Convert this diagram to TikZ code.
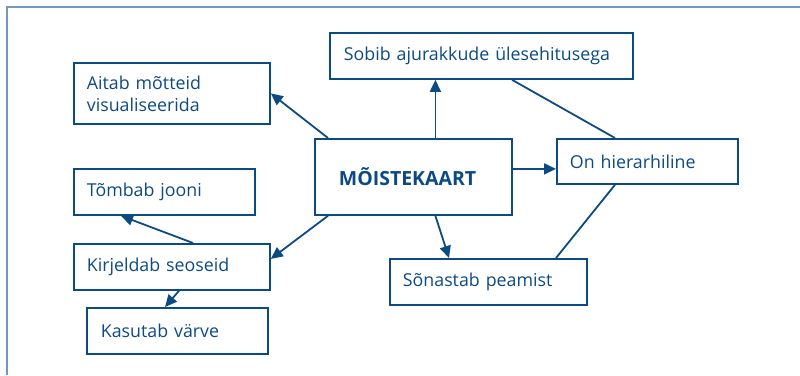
\documentclass[tikz,border=0pt]{standalone}
\usepackage{fontspec}
\setmainfont{Open Sans}
\usetikzlibrary{arrows.meta,calc}
\definecolor{dblue}{HTML}{0C4A84}
\definecolor{frame}{HTML}{7497BE}
\begin{document}
\begin{tikzpicture}[x=1pt,y=-1pt,
  box/.style={draw=dblue,line width=1.8pt,rectangle,inner xsep=13pt,inner ysep=0pt,align=left,text=dblue,font=\fontsize{17.8}{22}\selectfont,anchor=north west},
  link/.style={draw=dblue,line width=1.8pt},
  arr/.style={link,-{Triangle[length=12pt,width=11pt]}}]
\useasboundingbox (0,0) rectangle (800,375);
\draw[frame,line width=1.6pt] (6,7) -- (800,7);
\draw[frame,line width=1.6pt] (7,7) -- (7,375);
\node[box,minimum width=303pt,minimum height=46pt,text width=275pt] (sobib) at (329,32) {Sobib ajurakkude ülesehitusega};
\node[box,minimum width=196pt,minimum height=61pt,text width=170pt] (aitab) at (73,62) {Aitab mõtteid\\visualiseerida};
\node[box,minimum width=197pt,minimum height=76pt,text width=149pt,inner xsep=24pt,font=\fontsize{19.5}{22}\selectfont\bfseries] (main) at (314,138) {MÕISTEKAART};
\node[box,minimum width=181pt,minimum height=45pt,text width=155pt] (on) at (556,138) {On hierarhiline};
\node[box,minimum width=181pt,minimum height=46pt,text width=155pt] (tombab) at (73,168) {Tõmbab jooni};
\node[box,minimum width=196pt,minimum height=46pt,text width=170pt] (kirj) at (73,243) {Kirjeldab seoseid};
\node[box,minimum width=181pt,minimum height=46pt,text width=153pt,inner xsep=14pt] (kasutab) at (86,307) {Kasutab värve};
\node[box,minimum width=197pt,minimum height=46pt,text width=171pt] (sonastab) at (389,258) {Sõnastab peamist};
\coordinate (mtop) at ($(main.north)+(22,0)$);
\coordinate (mright) at ($(main.east)+(0,-8)$);
\draw[arr] (mtop) -- (mtop |- sobib.south);
\draw[arr] ($(main.north west)+(14,0)$) -- (aitab.east);
\draw[arr] (mright) -- (mright -| on.west);
\draw[arr] ($(main.south west)+(14,0)$) -- ($(kirj.east)+(0,-8)$);
\draw[arr] ($(main.south)+(22,0)$) -- ($(sonastab.north west)+(60,0)$);
\draw[link] ($(sobib.south west)+(183,0)$) -- ($(on.north west)+(59,0)$);
\draw[link] ($(on.south west)+(59,0)$) -- ($(sonastab.north west)+(167,0)$);
\draw[arr] ($(kirj.north west)+(120,0)$) -- ($(tombab.south west)+(48,0)$);
\draw[arr] ($(kirj.south west)+(106,0)$) -- ($(kasutab.north west)+(79,0)$);
\end{tikzpicture}
\end{document}
